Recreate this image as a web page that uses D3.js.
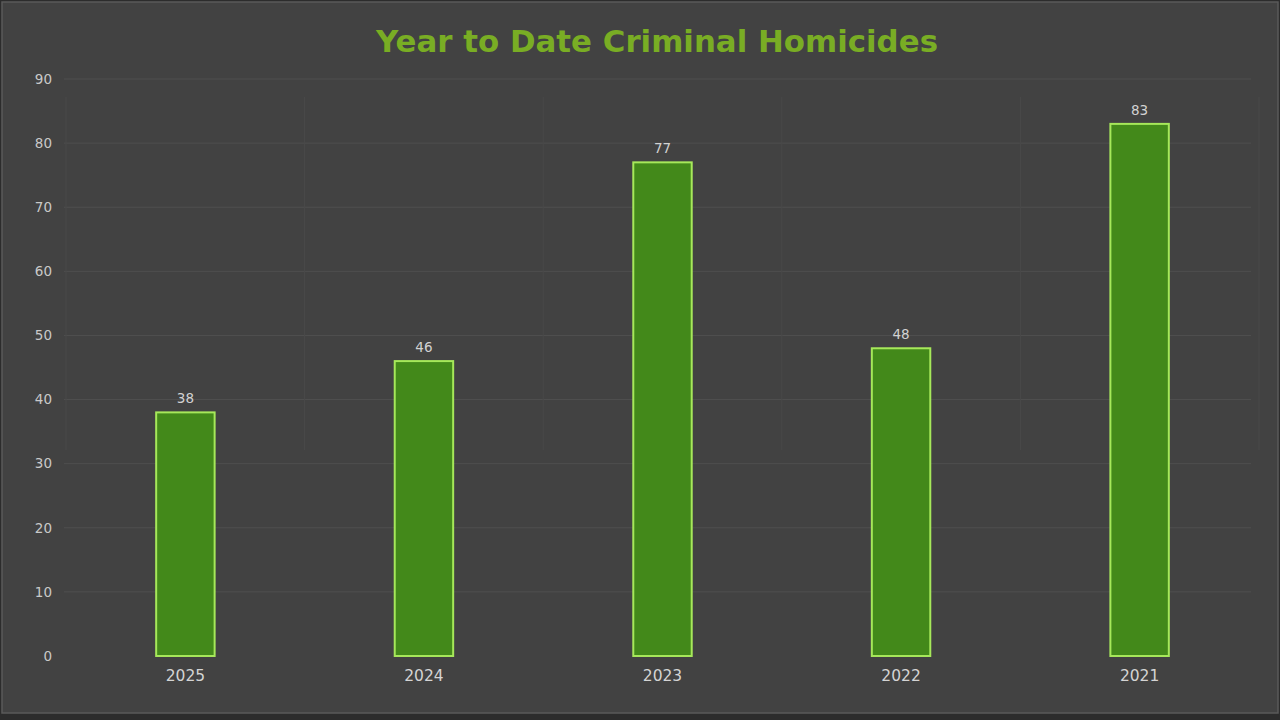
<!DOCTYPE html>
<html>
<head>
<meta charset="utf-8">
<script src="https://d3js.org/d3.v7.min.js"></script>
<style>
  html, body { margin: 0; padding: 0; background: #2f2f2f; }
  svg { display: block; }
</style>
</head>
<body>
<div id="chart"></div>
<script>
// chart data
var years = ["2025", "2024", "2023", "2022", "2021"];
var homicides = [38, 46, 77, 48, 83];
var yTicks = [0, 10, 20, 30, 40, 50, 60, 70, 80, 90];

var width = 1280;
var height = 720;

// plot area
var plotLeft = 66, plotRight = 1259, plotTop = 79, plotBottom = 656;

var svg = d3.select("#chart")
  .append("svg")
  .attr("width", width)
  .attr("height", height);

// background panel
svg.append("rect")
  .attr("x", 0).attr("y", 0)
  .attr("width", width).attr("height", height)
  .attr("fill", "#2c2c2c");
svg.append("rect")
  .attr("x", 2).attr("y", 2)
  .attr("width", width - 4).attr("height", height - 9)
  .attr("fill", "#424242")
  .attr("stroke", "#5a5a5a")
  .attr("stroke-width", 1.5);

var xScale = d3.scaleBand()
  .domain(years)
  .range([plotLeft, plotRight])
  .paddingInner(0.755)
  .paddingOuter(0.378);

var yScale = d3.scaleLinear()
  .domain([0, 90])
  .range([plotBottom, plotTop]);

// horizontal gridlines
svg.append("g")
  .selectAll("line")
  .data(yTicks.slice(1))
  .enter()
  .append("line")
  .attr("x1", plotLeft - 2)
  .attr("x2", plotRight - 8)
  .attr("y1", function(d) { return yScale(d); })
  .attr("y2", function(d) { return yScale(d); })
  .attr("stroke", "#4f4f4f")
  .attr("stroke-width", 1);

// faint vertical separators between the categories
var seps = d3.range(years.length + 1).map(function(i) { return plotLeft + i * (plotRight - plotLeft) / years.length; });
svg.append("g")
  .selectAll("line")
  .data(seps)
  .enter()
  .append("line")
  .attr("x1", function(d) { return d; })
  .attr("x2", function(d) { return d; })
  .attr("y1", 97)
  .attr("y2", 450)
  .attr("stroke", "#494949")
  .attr("stroke-width", 1);

// y axis labels
var yAxis = d3.axisLeft(yScale).tickValues(yTicks).tickSize(0).tickPadding(0);
var gy = svg.append("g")
  .attr("class", "yAxis")
  .attr("transform", "translate(52,0)")
  .call(yAxis);
gy.select(".domain").remove();
gy.selectAll("text")
  .attr("fill", "#c9c9c9")
  .attr("font-family", "DejaVu Sans")
  .attr("font-size", 13.5);

// x axis labels
var xAxis = d3.axisBottom(xScale).tickSize(0).tickPadding(0);
var gx = svg.append("g")
  .attr("class", "xAxis")
  .attr("transform", "translate(0," + (plotBottom + 14) + ")")
  .call(xAxis);
gx.select(".domain").remove();
gx.selectAll("text")
  .attr("fill", "#d4d4d4")
  .attr("font-family", "DejaVu Sans")
  .attr("font-size", 15.5);

// bars
svg.append("g")
  .selectAll("rect")
  .data(homicides)
  .enter()
  .append("rect")
  .attr("x", function(d, i) { return xScale(years[i]); })
  .attr("y", function(d) { return yScale(d); })
  .attr("width", xScale.bandwidth())
  .attr("height", function(d) { return yScale(0) - yScale(d); })
  .attr("fill", "#43891a")
  .attr("stroke", "#a6e85a")
  .attr("stroke-width", 2);

// value labels
svg.append("g")
  .selectAll("text")
  .data(homicides)
  .enter()
  .append("text")
  .attr("x", function(d, i) { return xScale(years[i]) + xScale.bandwidth() / 2; })
  .attr("y", function(d) { return yScale(d) - 9; })
  .attr("text-anchor", "middle")
  .attr("fill", "#d2d2d2")
  .attr("font-family", "DejaVu Sans")
  .attr("font-size", 13.5)
  .text(function(d) { return d; });

// title
svg.append("text")
  .attr("x", 657)
  .attr("y", 52)
  .attr("text-anchor", "middle")
  .attr("fill", "#79ad24")
  .attr("font-family", "DejaVu Sans")
  .attr("font-weight", "bold")
  .attr("font-size", 30)
  .attr("textLength", 562)
  .attr("lengthAdjust", "spacingAndGlyphs")
  .text("Year to Date Criminal Homicides");
</script>
</body>
</html>
